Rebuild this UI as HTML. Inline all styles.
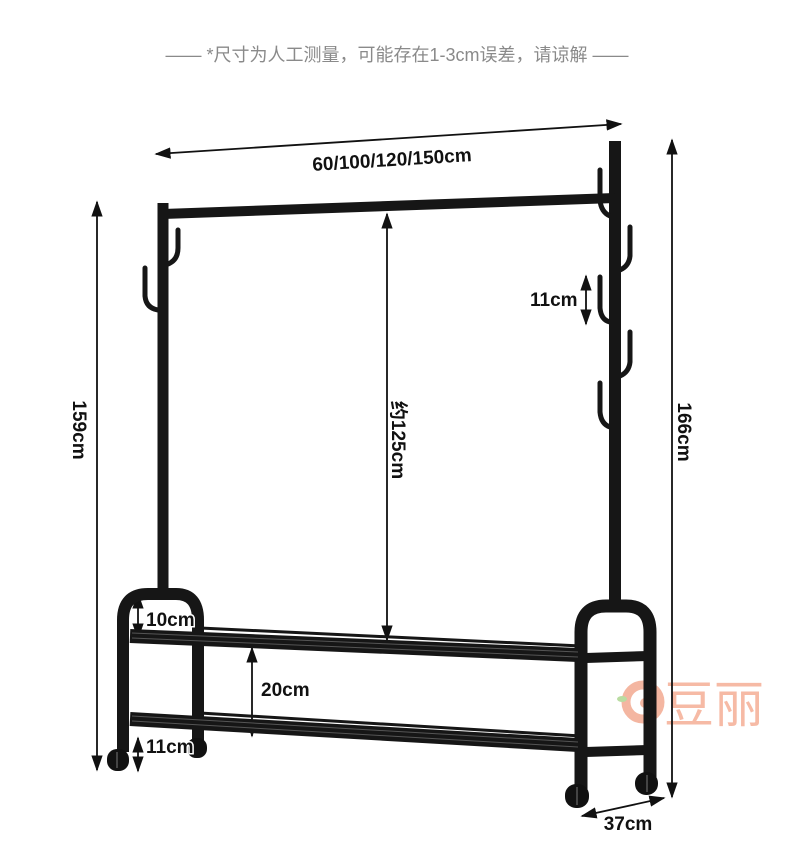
<!DOCTYPE html>
<html><head><meta charset="utf-8"><style>
html,body{margin:0;padding:0;background:#fff;}
svg{display:block;}
text{font-family:"Liberation Sans","Noto Sans CJK SC",sans-serif;}
</style></head><body>
<svg width="790" height="851" viewBox="0 0 790 851" xmlns="http://www.w3.org/2000/svg">
<defs>
<marker id="a" viewBox="0 0 10 10" refX="9" refY="5" markerWidth="9" markerHeight="9" orient="auto-start-reverse"><path d="M0,1.5 L10,5 L0,8.5 z" fill="#111"/></marker>
</defs>
<text x="397" y="61" font-size="18" fill="#8a8a8a" text-anchor="middle">—— *尺寸为人工测量，可能存在1-3cm误差，请谅解 ——</text>

<!-- watermark -->
<g opacity="0.8">
<circle cx="643" cy="702" r="17" fill="none" stroke="#f2a58a" stroke-width="9"/>
<circle cx="645" cy="703" r="5" fill="#f2a58a"/>
<ellipse cx="622" cy="699" rx="5" ry="3" fill="#a8d48a"/>
<text x="664" y="722" font-size="50" fill="#f4a98f">豆丽</text>
</g>

<!-- dimension lines -->
<g stroke="#111" stroke-width="1.8" fill="none">
<line x1="156" y1="154" x2="621" y2="124" marker-start="url(#a)" marker-end="url(#a)"/>
<line x1="97" y1="202" x2="97" y2="770" marker-start="url(#a)" marker-end="url(#a)"/>
<line x1="672" y1="140" x2="672" y2="797" marker-start="url(#a)" marker-end="url(#a)"/>
<line x1="387" y1="214" x2="387" y2="640" marker-start="url(#a)" marker-end="url(#a)"/>
<line x1="586" y1="276" x2="586" y2="324" marker-start="url(#a)" marker-end="url(#a)"/>
<line x1="138" y1="594" x2="138" y2="638" marker-start="url(#a)" marker-end="url(#a)"/>
<line x1="252" y1="648" x2="252" y2="736" marker-start="url(#a)" marker-end="url(#a)"/>
<line x1="138" y1="738" x2="138" y2="771" marker-start="url(#a)" marker-end="url(#a)"/>
<line x1="582" y1="816" x2="664" y2="798" marker-start="url(#a)" marker-end="url(#a)"/>
</g>

<!-- rack -->
<g stroke="#161616" fill="none" stroke-linecap="round">
<line x1="163" y1="203" x2="163" y2="600" stroke-width="11" stroke-linecap="butt"/>
<line x1="615" y1="141" x2="615" y2="612" stroke-width="12" stroke-linecap="butt"/>
<line x1="163" y1="214" x2="615" y2="198" stroke-width="10" stroke-linecap="butt"/>
<path d="M178,230 L178,248 Q178,260 168,264" stroke-width="5"/>
<path d="M145,268 L145,296 Q146,308 158,310" stroke-width="5"/>
<path d="M600,170 L600,200 Q601,212 610,216" stroke-width="5"/>
<path d="M630,227 L630,256 Q629,266 620,270" stroke-width="5"/>
<path d="M600,277 L600,308 Q601,320 610,322" stroke-width="5"/>
<path d="M630,332 L630,362 Q629,372 620,376" stroke-width="5"/>
<path d="M600,383 L600,412 Q601,424 610,427" stroke-width="5"/>
<path d="M123,752 L123,620 Q123,594 148,594 L176,594 Q198,594 198,620 L198,742" stroke-width="12" stroke-linecap="butt"/>
<path d="M581,790 L581,632 Q581,606 606,606 L626,606 Q650,606 650,632 L650,778" stroke-width="13" stroke-linecap="butt"/>
<line x1="130" y1="636" x2="578" y2="655" stroke-width="14" stroke-linecap="butt"/>
<line x1="200" y1="628" x2="581" y2="646" stroke-width="3"/>
<line x1="586" y1="658" x2="648" y2="656" stroke-width="10" stroke-linecap="butt"/>
<line x1="130" y1="719" x2="578" y2="745" stroke-width="14" stroke-linecap="butt"/>
<line x1="200" y1="713" x2="581" y2="736" stroke-width="3"/>
<line x1="586" y1="752" x2="648" y2="750" stroke-width="10" stroke-linecap="butt"/>
</g>
<g stroke="#555" stroke-width="1">
<line x1="132" y1="633" x2="578" y2="652"/>
<line x1="132" y1="638" x2="578" y2="657"/>
<line x1="132" y1="716" x2="578" y2="742"/>
<line x1="132" y1="721" x2="578" y2="747"/>
</g>
<g fill="#111">
<rect x="107" y="749" width="22" height="22" rx="10"/>
<rect x="187" y="738" width="20" height="20" rx="9"/>
<rect x="565" y="784" width="24" height="24" rx="11"/>
<rect x="635" y="772" width="23" height="23" rx="11"/>
</g>
<g fill="#444">
<rect x="116" y="752" width="2" height="16"/>
<rect x="576" y="787" width="2" height="18"/>
<rect x="646" y="775" width="2" height="17"/>
</g>

<g fill="#111" font-size="19" font-weight="bold">
<text x="392" y="166" text-anchor="middle" transform="rotate(-3.5 392 160)">60/100/120/150cm</text>
<text x="530" y="306">11cm</text>
<text x="146" y="626" stroke="#fff" stroke-width="3" paint-order="stroke">10cm</text>
<text x="261" y="696">20cm</text>
<text x="146" y="753" stroke="#fff" stroke-width="3" paint-order="stroke">11cm</text>
<text x="628" y="830" text-anchor="middle">37cm</text>
<text x="0" y="0" transform="translate(73,430) rotate(90)" text-anchor="middle">159cm</text>
<text x="0" y="0" transform="translate(678,432) rotate(90)" text-anchor="middle">166cm</text>
<text x="0" y="0" transform="translate(392,440) rotate(90)" text-anchor="middle">约125cm</text>
</g>
</svg>
</body></html>
